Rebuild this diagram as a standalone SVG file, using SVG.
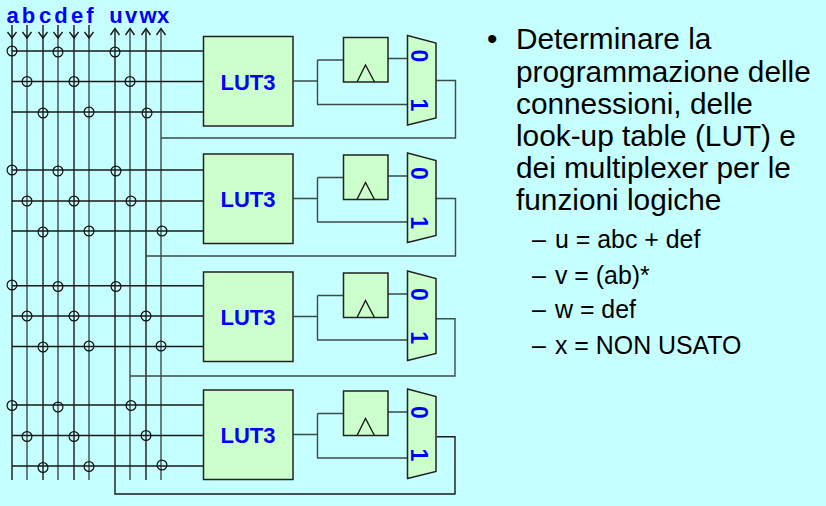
<svg xmlns="http://www.w3.org/2000/svg" width="826" height="506" viewBox="0 0 826 506">
<style>
.w{fill:none;stroke:#1a1a1a;stroke-width:1.4}
.g{fill:none;stroke:#3c4a48;stroke-width:1.4}
.box{fill:#ccffcc;stroke:#222;stroke-width:1.5}
.c{fill:none;stroke:#111;stroke-width:1.2}
.b{font-family:"Liberation Sans",Arial,sans-serif;font-weight:bold;fill:#0000ff}
.d{font-size:23px;text-anchor:middle}
.t{font-family:"Liberation Sans",Arial,sans-serif;fill:#000}
.s{font-size:29.800px}
.m{font-size:24.900px}
</style>
<defs>
<g id="x"><circle class="c" r="4.9"/></g>
<g id="cell">
<rect class="box" x="203.500" y="0" width="89.500" height="89.500"/>
<text class="b" x="248" y="53" font-size="22" text-anchor="middle">LUT3</text>
<path class="g" d="M293 44.500H317.500M317.500 23.500H343.500M317.500 23.500V68M317 68H407.500M388 22H408"/>
<rect class="box" x="343.500" y="1" width="44.500" height="44.500"/>
<path class="w" d="M357 45.500L365.500 28.500L374.500 45.500"/>
<path class="box" d="M407.500 -1L436 6.500V81.500L407.500 88.500Z"/>
</g>
</defs>
<rect width="826" height="506" fill="#c6ffff"/>
<g id="connectors">
<path class="w" d="M12 38V480M43 38V480M74 38V480M115 30V494H455V436.700H437M146 30V256"/>
<path class="w" d="M146 256V480"/>
<path class="g" d="M27 38V480M58 38V480M89 38V480M130 30V376H455V318.700H436M130 376V480M161 30V480M161 138H455.500V80.500H436M146 256H455.500V198.500H436"/>
<path class="w" d="M12 51H203M12 81.500H204M12 112H204M12 170H203M12 201H204M12 231H204M12 285.700H204M12 316H206M12 346.500H206M12 405H203M12 435.500H206M12 466H206"/>
<path class="w" d="M12 25V38M7.500 32L12 38L16.500 32M27 25V38M22.500 32L27 38L31.500 32M43 25V38M38.500 32L43 38L47.500 32M58 25V38M53.500 32L58 38L62.500 32M74 25V38M69.500 32L74 38L78.500 32M89 25V38M84.500 32L89 38L93.500 32"/>
<path class="w" d="M110.500 35L115 28.500L119.500 35M125.500 35L130 28.500L134.500 35M141.500 35L146 28.500L150.500 35M156.500 35L161 28.500L165.500 35"/>
</g>
<g id="crosspoints">
<use href="#x" x="12" y="51"/><use href="#x" x="58" y="52"/><use href="#x" x="115" y="52"/>
<use href="#x" x="27" y="81.500"/><use href="#x" x="74" y="81.500"/><use href="#x" x="130" y="81.500"/>
<use href="#x" x="43" y="113"/><use href="#x" x="89" y="112"/><use href="#x" x="147" y="113"/>
<use href="#x" x="12" y="170"/><use href="#x" x="58" y="171"/><use href="#x" x="116" y="171"/>
<use href="#x" x="27" y="201"/><use href="#x" x="74" y="201"/><use href="#x" x="131" y="201"/>
<use href="#x" x="43" y="232"/><use href="#x" x="89" y="231"/><use href="#x" x="162" y="231"/>
<use href="#x" x="12" y="285"/><use href="#x" x="58" y="286.500"/><use href="#x" x="116" y="286.500"/>
<use href="#x" x="27" y="316"/><use href="#x" x="74" y="316"/><use href="#x" x="146" y="316"/>
<use href="#x" x="43" y="347"/><use href="#x" x="89" y="346"/><use href="#x" x="161" y="346"/>
<use href="#x" x="12" y="405.500"/><use href="#x" x="58" y="407"/><use href="#x" x="131" y="405.500"/>
<use href="#x" x="27" y="436.500"/><use href="#x" x="74" y="436.500"/><use href="#x" x="146" y="435.500"/>
<use href="#x" x="43" y="467.500"/><use href="#x" x="89" y="466.500"/><use href="#x" x="162" y="465"/>
</g>
<g id="cell1"><use href="#cell" y="36.500"/>
<text class="b d" transform="translate(411,56) rotate(90)">0</text>
<text class="b d" transform="translate(411,105) rotate(90)">1</text></g>
<g id="cell2"><use href="#cell" y="154"/>
<text class="b d" transform="translate(411,173.300) rotate(90)">0</text>
<text class="b d" transform="translate(411,222.700) rotate(90)">1</text></g>
<g id="cell3"><use href="#cell" y="272"/>
<text class="b d" transform="translate(411,294.300) rotate(90)">0</text>
<text class="b d" transform="translate(411,337.700) rotate(90)">1</text></g>
<g id="cell4"><use href="#cell" y="390"/>
<text class="b d" transform="translate(411,412.300) rotate(90)">0</text>
<text class="b d" transform="translate(411,455) rotate(90)">1</text></g>
<g id="signals" class="b" font-size="22" text-anchor="middle">
<text x="12.500" y="23">a</text>
<text x="28.500" y="23">b</text>
<text x="45" y="23">c</text>
<text x="61" y="23">d</text>
<text x="77" y="23">e</text>
<text x="90" y="23">f</text>
<text x="116" y="23">u</text>
<text x="131" y="23">v</text>
<text x="148" y="23">w</text>
<text x="163" y="23">x</text>
</g>
<g id="notes" class="t">
<text class="s" x="487" y="49">•</text>
<text class="s" x="516" y="49">Determinare la</text>
<text class="s" x="516" y="81.500">programmazione delle</text>
<text class="s" x="516" y="113.700">connessioni, delle</text>
<text class="s" x="516" y="146">look-up table (LUT) e</text>
<text class="s" x="516" y="178">dei multiplexer per le</text>
<text class="s" x="516" y="210">funzioni logiche</text>
<text class="m" x="532" y="248">–</text><text class="m" x="555" y="248">u = abc + def</text>
<text class="m" x="532" y="284">–</text><text class="m" x="555" y="284">v = (ab)*</text>
<text class="m" x="532" y="318.400">–</text><text class="m" x="555" y="318.400">w = def</text>
<text class="m" x="532" y="354.400">–</text><text class="m" x="555" y="354.400">x = NON USATO</text>
</g>
</svg>
